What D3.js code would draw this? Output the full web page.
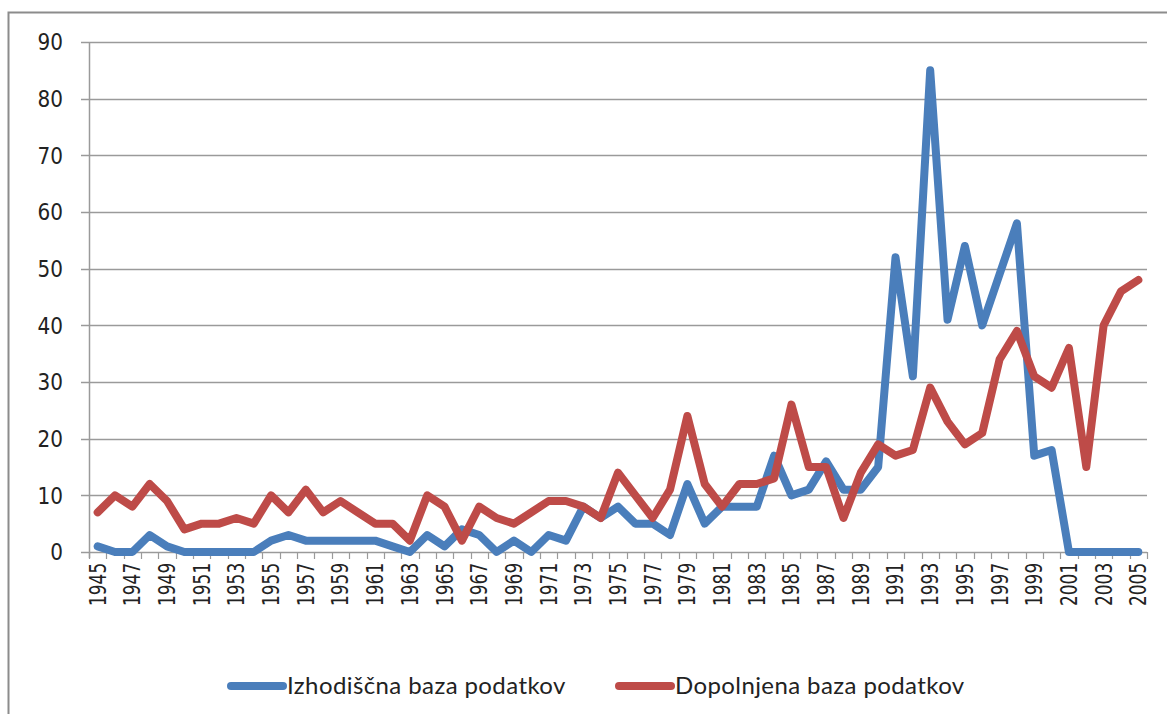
<!DOCTYPE html>
<html>
<head>
<meta charset="utf-8">
<script src="https://cdn.jsdelivr.net/npm/d3@7"></script>
<style>
  body { margin: 0; background: #fff; }
  svg { display: block; }
</style>
</head>
<body>
<div id="chart"></div>
<script>
// leta (kategorije)
var years = d3.range(1945, 2006);

// Izhodiščna baza podatkov
var izhodiscna = [1, 0, 0, 3, 1, 0, 0, 0, 0, 0,
  2, 3, 2, 2, 2, 2, 2, 1, 0, 3,
  1, 4, 3, 0, 2, 0, 3, 2, 8, 6,
  8, 5, 5, 3, 12, 5, 8, 8, 8, 17,
  10, 11, 16, 11, 11, 15, 52, 31, 85, 41,
  54, 40, 49, 58, 17, 18, 0, 0, 0, 0, 0];

// Dopolnjena baza podatkov
var dopolnjena = [7, 10, 8, 12, 9, 4, 5, 5, 6, 5,
  10, 7, 11, 7, 9, 7, 5, 5, 2, 10,
  8, 2, 8, 6, 5, 7, 9, 9, 8, 6,
  14, 10, 6, 11, 24, 12, 8, 12, 12, 13,
  26, 15, 15, 6, 14, 19, 17, 18, 29, 23,
  19, 21, 34, 39, 31, 29, 36, 15, 40, 46, 48];

var yTicks = [0, 10, 20, 30, 40, 50, 60, 70, 80, 90];

var seriesNames = ["Izhodiščna baza podatkov", "Dopolnjena baza podatkov"];
var seriesColors = ["#4a7ebb", "#be4b48"];

var width = 1167, height = 714;
var mLeft = 89, mRight = 1147, mTop = 42, mBottom = 552;

var svg = d3.select('#chart').append('svg')
    .attr('width', width)
    .attr('height', height);

// okvir grafa (odrezan desno in spodaj)
svg.append('path')
    .attr('d', 'M8.5,714 L8.5,12.5 L1167,12.5')
    .attr('fill', 'none')
    .attr('stroke', '#8c8c8c')
    .attr('stroke-width', 2);

var x = d3.scaleBand()
    .domain(years)
    .range([mLeft, mRight]);

var y = d3.scaleLinear()
    .domain([0, 90])
    .range([mBottom, mTop]);

// mreža
svg.append('g')
    .selectAll('line')
    .data(yTicks)
    .enter()
    .append('line')
    .attr('x1', mLeft - 8)
    .attr('x2', mRight)
    .attr('y1', function (d) { return Math.round(y(d)) + 0.5; })
    .attr('y2', function (d) { return Math.round(y(d)) + 0.5; })
    .attr('stroke', '#9a9a9a')
    .attr('stroke-width', 1.5);

// y os
svg.append('line')
    .attr('x1', mLeft + 0.5).attr('x2', mLeft + 0.5)
    .attr('y1', mTop).attr('y2', mBottom + 6)
    .attr('stroke', '#9a9a9a')
    .attr('stroke-width', 1.5);

svg.append('g')
    .selectAll('text')
    .data(yTicks)
    .enter()
    .append('text')
    .attr('transform', function (d) { return 'translate(63,' + y(d) + ') scale(1,1.15)'; })
    .attr('dy', '0.36em')
    .attr('text-anchor', 'end')
    .attr('font-family', 'DejaVu Sans, sans-serif')
    .attr('font-size', 20)
    .attr('fill', '#222')
    .text(function (d) { return d; });

// x os - kljukice med kategorijami
svg.append('g')
    .selectAll('line')
    .data(d3.range(years.length + 1))
    .enter()
    .append('line')
    .attr('x1', function (i) { return Math.round(mLeft + i * x.step()) + 0.5; })
    .attr('x2', function (i) { return Math.round(mLeft + i * x.step()) + 0.5; })
    .attr('y1', mBottom)
    .attr('y2', mBottom + 7)
    .attr('stroke', '#9a9a9a')
    .attr('stroke-width', 1.2);

svg.append('g')
    .selectAll('text')
    .data(years.filter(function (d) { return (d - 1945) % 2 === 0; }))
    .enter()
    .append('text')
    .attr('transform', function (d) {
        return 'translate(' + (x(d) + x.bandwidth() / 2) + ',' + 606 + ') rotate(-90) scale(1,1.3)';
    })
    .attr('dy', '0.36em')
    .attr('text-anchor', 'start')
    .attr('font-family', 'DejaVu Sans, sans-serif')
    .attr('font-size', 17)
    .attr('fill', '#222')
    .text(function (d) { return d; });

// črte
var line = d3.line()
    .x(function (d, i) { return x(years[i]) + x.bandwidth() / 2; })
    .y(function (d) { return y(d); });

[izhodiscna, dopolnjena].forEach(function (s, k) {
    svg.append('path')
        .datum(s)
        .attr('d', line)
        .attr('fill', 'none')
        .attr('stroke', seriesColors[k])
        .attr('stroke-width', 8)
        .attr('stroke-linejoin', 'round')
        .attr('stroke-linecap', 'round');
});

// legenda
var legX = [231, 619];
seriesNames.forEach(function (name, k) {
    svg.append('line')
        .attr('x1', legX[k]).attr('x2', legX[k] + 52)
        .attr('y1', 686).attr('y2', 686)
        .attr('stroke', seriesColors[k])
        .attr('stroke-width', 8)
        .attr('stroke-linecap', 'round');
    svg.append('text')
        .attr('x', legX[k] + 56)
        .attr('y', 686)
        .attr('dy', '0.35em')
        .attr('font-family', 'Lato, sans-serif')
        .attr('font-size', 24)
        .attr('letter-spacing', 0.4)
        .attr('fill', '#222')
        .text(name);
});
</script>
</body>
</html>
